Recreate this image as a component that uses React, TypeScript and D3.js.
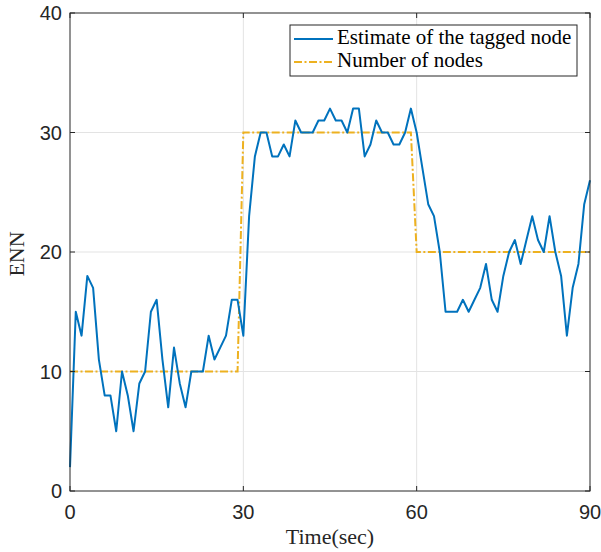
import React from "react";
import * as d3 from "d3";

const times: number[] = d3.range(0, 91);
const estimate: number[] = [
  2, 15, 13, 18, 17, 11, 8, 8, 5, 10, 8, 5, 9, 10, 15, 16, 11, 7, 12, 9,
  7, 10, 10, 10, 13, 11, 12, 13, 16, 16, 13, 23, 28, 30, 30, 28, 28, 29, 28, 31,
  30, 30, 30, 31, 31, 32, 31, 31, 30, 32, 32, 28, 29, 31, 30, 30, 29, 29, 30, 32,
  30, 27, 24, 23, 20, 15, 15, 15, 16, 15, 16, 17, 19, 16, 15, 18, 20, 21, 19, 21,
  23, 21, 20, 23, 20, 18, 13, 17, 19, 24, 26,
];
const nodes: number[] = times.map((t) => (t < 30 ? 10 : t < 60 ? 30 : 20));
const xTicks: number[] = [0, 30, 60, 90];
const yTicks: number[] = [0, 10, 20, 30, 40];
const seriesNames: string[] = ["Estimate of the tagged node", "Number of nodes"];

const W = 601;
const H = 552;
const L = 70, R = 590, T = 13, B = 491;

export default function App() {
  const x = d3.scaleLinear().domain([0, 90]).range([L, R]);
  const y = d3.scaleLinear().domain([0, 40]).range([B, T]);
  const line = d3
    .line<number>()
    .x((_, i) => x(times[i]))
    .y((d) => y(d));
  const axisColor = "#262626";
  const tickFont = "'Liberation Sans', Arial, sans-serif";
  const serif = "'Liberation Serif', 'DejaVu Serif', serif";
  const tl = 5;
  return (
    <svg
      width={W}
      height={H}
      style={{ position: "absolute", left: 0, top: 0, background: "#fff" }}
    >
      <rect x={0} y={0} width={W} height={H} fill="#fff" />
      {xTicks.slice(1, -1).map((t) => (
        <line key={"gx" + t} x1={x(t)} x2={x(t)} y1={T} y2={B} stroke="#e3e3e3" strokeWidth={1} />
      ))}
      {yTicks.slice(1, -1).map((t) => (
        <line key={"gy" + t} x1={L} x2={R} y1={y(t)} y2={y(t)} stroke="#e3e3e3" strokeWidth={1} />
      ))}
      <path d={line(nodes) || ""} fill="none" stroke="#EDB120" strokeWidth={2} strokeDasharray="8,2.5,2,2.5" />
      <path d={line(estimate) || ""} fill="none" stroke="#0072BD" strokeWidth={2} strokeLinejoin="round" />
      <rect x={L} y={T} width={R - L} height={B - T} fill="none" stroke={axisColor} strokeWidth={1} />
      {xTicks.map((t) => (
        <g key={"xt" + t}>
          <line x1={x(t)} x2={x(t)} y1={B} y2={B - tl} stroke={axisColor} />
          <line x1={x(t)} x2={x(t)} y1={T} y2={T + tl} stroke={axisColor} />
          <text x={x(t)} y={519} textAnchor="middle" fontFamily={tickFont} fontSize={20} fill={axisColor}>
            {t}
          </text>
        </g>
      ))}
      {yTicks.map((t) => (
        <g key={"yt" + t}>
          <line x1={L} x2={L + tl} y1={y(t)} y2={y(t)} stroke={axisColor} />
          <line x1={R} x2={R - tl} y1={y(t)} y2={y(t)} stroke={axisColor} />
          <text x={62} y={y(t)} dy="0.36em" textAnchor="end" fontFamily={tickFont} fontSize={20} fill={axisColor}>
            {t}
          </text>
        </g>
      ))}
      <text x={(L + R) / 2} y={544} textAnchor="middle" fontFamily={serif} fontSize={22} fill={axisColor}>
        Time(sec)
      </text>
      <text
        transform={`translate(24,${(T + B) / 2 + 2}) rotate(-90)`}
        textAnchor="middle"
        fontFamily={serif}
        fontSize={22}
        fill={axisColor}
      >
        ENN
      </text>
      <rect x={290} y={25} width={287} height={51} fill="#fff" stroke={axisColor} strokeWidth={1} />
      <line x1={294} x2={333} y1={39} y2={39} stroke="#0072BD" strokeWidth={2} />
      <line x1={294} x2={333} y1={62} y2={62} stroke="#EDB120" strokeWidth={2} strokeDasharray="8,2.5,2,2.5" />
      <text x={337} y={44} fontFamily={serif} fontSize={21} fill="#000">
        {seriesNames[0]}
      </text>
      <text x={337} y={67} fontFamily={serif} fontSize={21} fill="#000">
        {seriesNames[1]}
      </text>
    </svg>
  );
}
